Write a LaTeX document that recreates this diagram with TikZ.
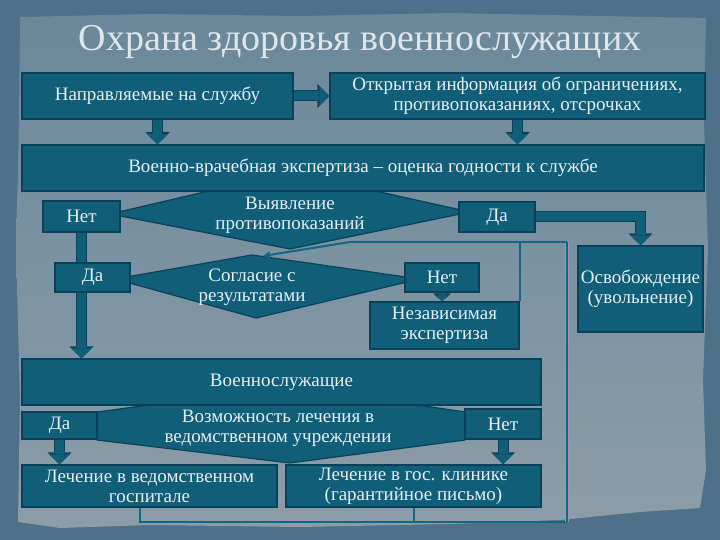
\documentclass[tikz,border=0pt]{standalone}
\usepackage{fontspec}
\setmainfont{Liberation Serif}
\usetikzlibrary{arrows.meta}
\definecolor{boxfill}{RGB}{16,94,120}
\definecolor{boxline}{RGB}{9,66,88}
\definecolor{txt}{RGB}{230,238,242}
\definecolor{outerbg}{RGB}{78,112,136}
\definecolor{innerbg}{RGB}{140,157,168}
\definecolor{innertop}{RGB}{106,136,155}
\definecolor{linec}{RGB}{16,104,132}
\definecolor{lilac}{RGB}{165,145,180}
\definecolor{titlec}{RGB}{222,230,235}
\newcommand\boxfont{\fontsize{19}{20}\selectfont}
\pgfdeclarelayer{bglayer}
\pgfdeclarelayer{midlayer}
\pgfsetlayers{bglayer,midlayer,main}
\begin{document}
\begin{tikzpicture}[x=1pt,y=-1pt,
  box/.style={rectangle, fill=boxfill, draw=boxline, line width=1.5pt, text=txt, align=center, inner sep=0pt, font=\boxfont},
  dia/.style={fill=boxfill, draw=boxline, line width=1.2pt},
  dtext/.style={text=txt, align=center, font=\boxfont, inner sep=0pt},
  barrow/.style={draw=boxfill, line width=9pt, -{Triangle[width=21pt,length=10pt,line width=0pt]},
     preaction={draw=boxline, line width=11pt, -{Triangle[width=24pt,length=12pt,line width=0pt]}}},
  sarrow/.style={draw=boxfill, line width=7pt, -{Triangle[width=15pt,length=6pt,line width=0pt]},
     preaction={draw=boxline, line width=9pt, -{Triangle[width=18pt,length=8pt,line width=0pt]}}},
  fline/.style={draw=linec, line width=2pt},
]
\useasboundingbox (0,0) rectangle (720,540);
\begin{pgfonlayer}{bglayer}
\fill[outerbg] (0,0) rectangle (720,540);
\shade[top color=innertop, bottom color=innerbg]
  (20,17) -- (150,14) -- (300,16) -- (450,13) -- (600,16) -- (706,18) -- (704,120)
  -- (708,250) -- (703,380) -- (706,470) -- (700,508) -- (640,512) -- (560,520)
  -- (450,524) -- (300,527) -- (150,525) -- (60,528) -- (18,522) -- (20,400)
  -- (16,250) -- (19,120) -- cycle;
\draw[dia] (110,214) -- (290,172) -- (470,212) -- (290,249) -- cycle;
\draw[dia] (115,279) -- (252,255) -- (420,279) -- (256,318) -- cycle;
\draw[dia] (97,412) -- (290,386) -- (465,412) -- (465,440) -- (290,463) -- (97,440) -- cycle;
\end{pgfonlayer}

\node[font=\fontsize{38}{40}\selectfont, text=titlec, inner sep=0pt] (title) at (360,42) {Охрана здоровья военнослужащих};

\coordinate (c1) at (140,522);
\coordinate (c2) at (567,522);
\coordinate (c3) at (567,242);
\coordinate (c4) at (350,242);
\coordinate (c5) at (263,256);

\path
 node[box, minimum width=271pt, minimum height=46pt] (n1) at (157.5,96) {Направляемые на службу}
 node[box, minimum width=375pt, minimum height=46pt] (n2) at (517.5,96) {Открытая информация об ограничениях,\\противопоказаниях, отсрочках}
 node[box, minimum width=682pt, minimum height=46pt] (n3) at (363,168) {Военно-врачебная экспертиза -- оценка годности к службе}
 node[box, minimum width=77pt, minimum height=31pt] (net1) at (81.5,216.5) {Нет}
 node[box, minimum width=76pt, minimum height=30pt] (da1) at (497,217) {Да}
 node[box, minimum width=125pt, minimum height=86pt] (osv) at (640.5,289) {Освобождение\\(увольнение)}
 node[box, minimum width=75pt, minimum height=29pt] (da2) at (92.5,277.5) {Да}
 node[box, minimum width=74pt, minimum height=29pt] (net2) at (442,277.5) {Нет}
 node[box, minimum width=149pt, minimum height=47pt] (nez) at (444.5,325.5) {Независимая\\экспертиза}
 node[box, minimum width=519pt, minimum height=46pt] (vs) at (281.5,382) {Военнослужащие}
 node[box, minimum width=75pt, minimum height=27pt] (da3) at (59.5,425.5) {Да}
 node[box, minimum width=76pt, minimum height=30pt] (net3) at (503,424) {Нет}
 node[box, minimum width=255pt, minimum height=42pt] (lv) at (149.5,486) {Лечение в ведомственном\\госпитале}
 node[box, minimum width=255pt, minimum height=42pt] (lg) at (413.5,486) {Лечение в гос. клинике\\(гарантийное письмо)};

\node[dtext] (t1) at (290,215) {Выявление\\противопоказаний};
\node[dtext] (t2) at (252,287) {Согласие с\\результатами};
\node[dtext] (t3) at (278,428) {Возможность лечения в\\ведомственном учреждении};

\begin{pgfonlayer}{bglayer}
\draw[fline] (lv.south -| c1) -- (c1) -- (c2);
\draw[fline] (lg.south) -- (lg.south |- c1);
\draw[draw=lilac, line width=0.8pt, double=linec, double distance=2pt] (c2) -- (c3);
\draw[fline] (c3) -- (c4);
\draw[fline] (nez.north east) -- (nez.north east |- c4);
\draw[fline, -{Triangle[width=7pt,length=7pt]}] (c4) -- (c5);
\end{pgfonlayer}

\begin{pgfonlayer}{midlayer}
\draw[barrow] (n1.east) -- (n2.west);
\draw[barrow] (n1.south) -- (n1.south |- n3.north);
\draw[barrow] (n2.south) -- (n2.south |- n3.north);
\draw[barrow] (da1.east) -| (osv.north);
\draw[barrow] (net1.south) -- (net1.south |- vs.north);
\draw[sarrow] (net2.south) -- (net2.south |- nez.north);
\draw[barrow] (da3.south) -- (da3.south |- lv.north);
\draw[barrow] (net3.south) -- (net3.south |- lg.north);
\end{pgfonlayer}
\end{tikzpicture}
\end{document}
